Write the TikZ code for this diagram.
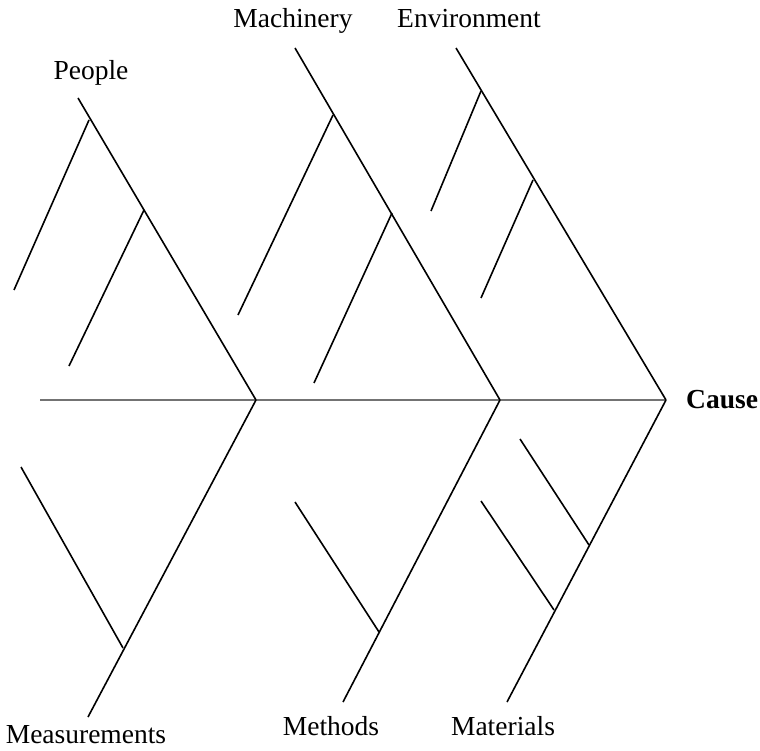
\documentclass[tikz,border=0pt]{standalone}
\usepackage{fontspec}
\setmainfont{Liberation Serif}
\begin{document}
\begin{tikzpicture}[x=1pt,y=-1pt,
  bone/.style={line width=1.6pt,black},
  spine/.style={line width=2.2pt,black!55},
  lbl/.style={font=\fontsize{27.5}{30}\selectfont,inner sep=0pt,anchor=base},
  pt/.style={inner sep=0pt,minimum size=0pt}]
\useasboundingbox (0,0) rectangle (760,751);

% spine and its joints
\coordinate (tail) at (40,400);
\coordinate (j1) at (256,400);
\coordinate (j2) at (500,400);
\coordinate (head) at (666,400);
\draw[spine] (tail) -- (j1) -- (j2) -- (head);

% main bones, top
\coordinate (peopleTop) at (78,98);
\coordinate (machTop) at (295,48);
\coordinate (envTop) at (456,48);
% main bones, bottom
\coordinate (measBot) at (88,717);
\coordinate (methBot) at (343,702);
\coordinate (matBot) at (507,702);

\draw[bone] (peopleTop) -- (j1);
\draw[bone] (machTop) -- (j2);
\draw[bone] (envTop) -- (head);
\draw[bone] (j1) -- (measBot);
\draw[bone] (j2) -- (methBot);
\draw[bone] (head) -- (matBot);

% sub-bones
\coordinate (p1) at (89,120);  \coordinate (p1e) at (14,290);
\coordinate (p2) at (144,210); \coordinate (p2e) at (69,366);
\coordinate (m1) at (333,115); \coordinate (m1e) at (238,315);
\coordinate (m2) at (392,213); \coordinate (m2e) at (314,383);
\coordinate (e1) at (481,91);  \coordinate (e1e) at (431,211);
\coordinate (e2) at (533,180); \coordinate (e2e) at (481,298);
\coordinate (s1) at (123,648); \coordinate (s1e) at (21,467);
\coordinate (t1) at (379,632); \coordinate (t1e) at (295,502);
\coordinate (a1) at (589,545); \coordinate (a1e) at (520,439);
\coordinate (a2) at (554,610); \coordinate (a2e) at (481,501);
\foreach \j/\e in {p1/p1e,p2/p2e,m1/m1e,m2/m2e,e1/e1e,e2/e2e,s1/s1e,t1/t1e,a1/a1e,a2/a2e}
  \draw[bone] (\j) -- (\e);

% labels
\node[lbl] (people) at (91,80) {People};
\node[lbl] (machinery) at (293,28) {Machinery};
\node[lbl] (environment) at (469,28) {Environment};
\node[lbl,anchor=base west,font=\fontsize{27.5}{30}\selectfont\bfseries] (cause) at (686,408) {Cause};
\node[lbl] (measurements) at (86,743) {Measurements};
\node[lbl] (methods) at (331,735) {Methods};
\node[lbl] (materials) at (503,735) {Materials};
\end{tikzpicture}
\end{document}
